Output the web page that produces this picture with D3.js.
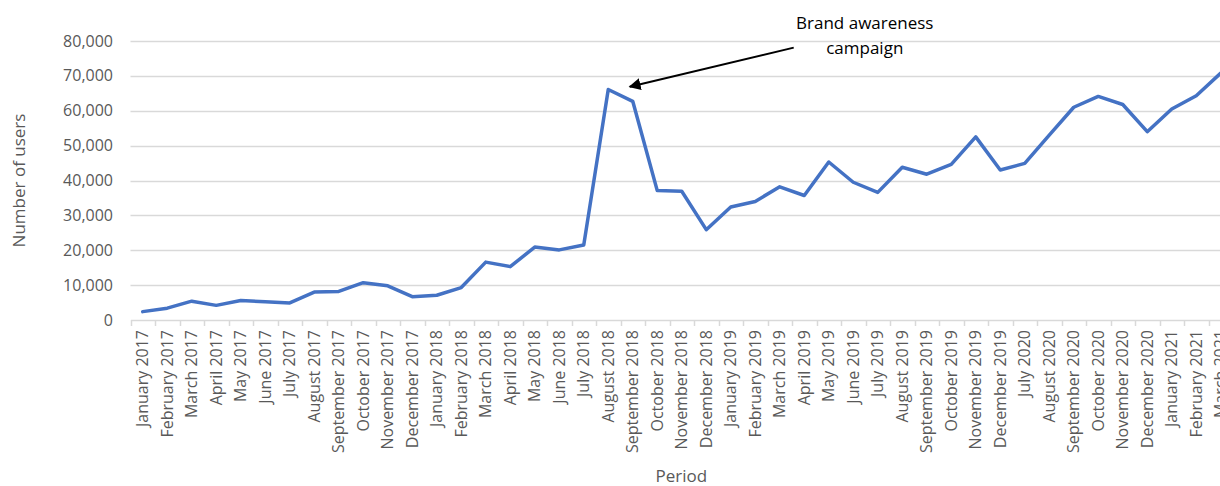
<!DOCTYPE html>
<html>
<head>
    <meta charset='utf-8'>
    <title>Number of users</title>
    <style>
        body { margin: 0; background: #fff; }
        svg { display: block; font-family: "Open Sans", sans-serif; }
    </style>
</head>
<body>
<svg width="1220" height="486"></svg>
<script src="https://d3js.org/d3.v7.min.js"></script>
<script>
    const months = [
        "January 2017", "February 2017", "March 2017", "April 2017", "May 2017", "June 2017",
        "July 2017", "August 2017", "September 2017", "October 2017", "November 2017", "December 2017",
        "January 2018", "February 2018", "March 2018", "April 2018", "May 2018", "June 2018",
        "July 2018", "August 2018", "September 2018", "October 2018", "November 2018", "December 2018",
        "January 2019", "February 2019", "March 2019", "April 2019", "May 2019", "June 2019",
        "July 2019", "August 2019", "September 2019", "October 2019", "November 2019", "December 2019",
        "July 2020", "August 2020", "September 2020", "October 2020", "November 2020", "December 2020",
        "January 2021", "February 2021", "March 2021"
    ]
    const users = [
        2400, 3400, 5400, 4200, 5600, 5200, 4900, 8000, 8200, 10700, 9800, 6700,
        7100, 9300, 16600, 15300, 20900, 20100, 21500, 66100, 62700, 37100, 36900, 25900,
        32400, 34000, 38200, 35700, 45300, 39500, 36600, 43800, 41800, 44600, 52500, 43000,
        44900, 53000, 61000, 64100, 61800, 54000, 60500, 64300, 70800
    ]
    const yTicks = [0, 10000, 20000, 30000, 40000, 50000, 60000, 70000, 80000]
    const noteLines = ["Brand awareness", "campaign"]
    const noteAt = "June 2019"
    const arrowFrom = {month: "March 2019", value: 78100}
    const arrowTo = {month: "September 2018", value: 66900}

    const width = 1220
    const height = 486
    const margin = {top: 41, left: 130.5, bottom: 166}
    const step = 24.5

    const x = d3.scaleBand()
        .domain(months)
        .range([margin.left, margin.left + months.length * step])
        .padding(0)

    const y = d3.scaleLinear()
        .domain([0, 80000])
        .range([height - margin.bottom, margin.top])

    const cx = m => x(m) + x.bandwidth() / 2

    const svg = d3.select("svg")

    svg.append("defs").append("marker")
        .attr("id", "head")
        .attr("viewBox", "0 0 10 10")
        .attr("refX", 9)
        .attr("refY", 5)
        .attr("markerWidth", 6)
        .attr("markerHeight", 6)
        .attr("markerUnits", "strokeWidth")
        .attr("orient", "auto")
        .append("path")
        .attr("d", "M0,0L10,5L0,10z")
        .attr("fill", "#000")

    // gridlines
    svg.append("g")
        .selectAll("line")
        .data(yTicks.filter(d => d > 0))
        .join("line")
        .attr("x1", margin.left)
        .attr("x2", width)
        .attr("y1", d => Math.round(y(d)) + 0.5)
        .attr("y2", d => Math.round(y(d)) + 0.5)
        .attr("stroke", "#d9d9d9")
        .attr("stroke-width", 1.5)

    // y axis labels
    svg.append("g")
        .attr("fill", "#595959")
        .attr("font-size", 16)
        .attr("text-anchor", "end")
        .selectAll("text")
        .data(yTicks)
        .join("text")
        .attr("x", 113)
        .attr("y", d => y(d))
        .attr("dy", "0.35em")
        .text(d3.format(","))

    // x axis
    const xAxis = svg.append("g")
        .attr("transform", `translate(0,${y(0)})`)
        .call(d3.axisBottom(x).tickSize(0).tickSizeOuter(0))

    xAxis.select(".domain")
        .attr("stroke", "#d9d9d9")
        .attr("stroke-width", 1.5)

    xAxis.selectAll(".tick text")
        .attr("font-family", "Open Sans, sans-serif")
        .attr("font-size", 16)
        .attr("fill", "#595959")
        .attr("text-anchor", "end")
        .attr("transform", "rotate(-90)")
        .attr("x", -10)
        .attr("y", 0)
        .attr("dy", "0.35em")

    svg.append("g")
        .selectAll("line")
        .data(months)
        .join("line")
        .attr("x1", d => Math.round(x(d)) + 0.5)
        .attr("x2", d => Math.round(x(d)) + 0.5)
        .attr("y1", y(0))
        .attr("y2", y(0) + 6)
        .attr("stroke", "#d9d9d9")
        .attr("stroke-width", 1.5)

    // line
    const line = d3.line()
        .x((d, i) => cx(months[i]))
        .y(d => y(d))

    svg.append("path")
        .datum(users)
        .attr("fill", "none")
        .attr("stroke", "#4472c4")
        .attr("stroke-width", 3.5)
        .attr("stroke-linejoin", "round")
        .attr("stroke-linecap", "round")
        .attr("d", line)

    // axis titles
    svg.append("text")
        .attr("transform", `translate(25,${(y(0) + y(80000)) / 2}) rotate(-90)`)
        .attr("text-anchor", "middle")
        .attr("font-size", 17)
        .attr("fill", "#595959")
        .text("Number of users")

    svg.append("text")
        .attr("x", (x.range()[0] + width) / 2 + 6)
        .attr("y", 482)
        .attr("text-anchor", "middle")
        .attr("font-size", 17)
        .attr("fill", "#595959")
        .text("Period")

    // annotation
    svg.append("g")
        .attr("font-size", 17)
        .attr("fill", "#000")
        .attr("text-anchor", "middle")
        .selectAll("text")
        .data(noteLines)
        .join("text")
        .attr("x", cx(noteAt) + 11.5)
        .attr("y", (d, i) => 29 + i * 25)
        .text(d => d)

    svg.append("line")
        .attr("x1", cx(arrowFrom.month) + 14)
        .attr("y1", y(arrowFrom.value))
        .attr("x2", cx(arrowTo.month) - 3)
        .attr("y2", y(arrowTo.value))
        .attr("stroke", "#000")
        .attr("stroke-width", 2)
        .attr("marker-end", "url(#head)")
</script>
</body>
</html>
